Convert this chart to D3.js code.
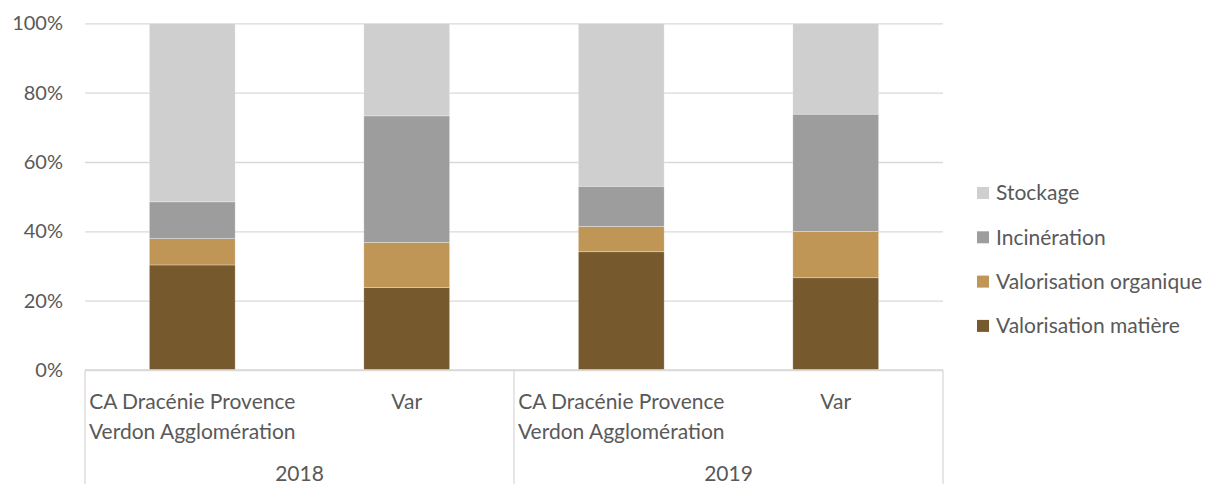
<!DOCTYPE html>
<html>
<head>
<meta charset="utf-8">
<script src="https://cdn.jsdelivr.net/npm/d3@7"></script>
<style>
  html, body { margin: 0; padding: 0; background: #fff; }
  svg { display: block; font-family: "Lato", "Open Sans", sans-serif; }
</style>
</head>
<body>
<svg id="chart" width="1209" height="484"></svg>
<script>
// Treatment modes of household waste (share of tonnage, %)
const groups = ["2018", "2019"];
const territories = ["CA Dracénie Provence Verdon Agglomération", "Var"];
const categoryLines = [["CA Dracénie Provence", "Verdon Agglomération"], ["Var"]];
const series = ["Valorisation matière", "Valorisation organique", "Incinération", "Stockage"];
const valorisationMatiere   = [30.3, 23.8, 34.1, 26.6];
const valorisationOrganique = [7.6, 13.0, 7.3, 13.4];
const incineration          = [10.6, 36.5, 11.6, 33.8];
const stockage              = [51.5, 26.7, 47.0, 26.2];
const yTicks = [0, 20, 40, 60, 80, 100];
const colors = ["#765A2E", "#BF9655", "#9D9D9D", "#D0CFD0"];

const categories = [];
groups.forEach(g => territories.forEach((t, i) => categories.push({ key: g + "|" + t, group: g, idx: i })));
const rows = categories.map((c, i) => ({
  key: c.key,
  "Valorisation matière": valorisationMatiere[i],
  "Valorisation organique": valorisationOrganique[i],
  "Incinération": incineration[i],
  "Stockage": stockage[i]
}));

const svg = d3.select("#chart");
const plotLeft = 85, plotRight = 943, plotTop = 23.3, plotBottom = 370;
const labelSize = "21px";

const x = d3.scaleBand().domain(categories.map(c => c.key)).range([plotLeft, plotRight])
  .paddingInner(0.6).paddingOuter(0.3);
const y = d3.scaleLinear().domain([0, 100]).range([plotBottom, plotTop]);
const color = d3.scaleOrdinal().domain(series).range(colors);
const textColor = "#595959";

// Gridlines and y axis labels
const yAxis = d3.axisLeft(y).tickValues(yTicks).tickFormat(d => d + "%")
  .tickSize(-(plotRight - plotLeft)).tickPadding(22);
const gy = svg.append("g").attr("transform", `translate(${plotLeft},0)`).call(yAxis);
gy.select(".domain").remove();
gy.selectAll(".tick line").attr("stroke", "#D9D9D9").attr("stroke-width", 1.3);
gy.selectAll(".tick text").attr("fill", textColor).style("font-size", "20px").style("font-family", "Lato, sans-serif");

// Stacked bars
const stack = d3.stack().keys(series);
const layers = stack(rows);
svg.append("g").selectAll("g").data(layers).join("g")
  .attr("fill", d => color(d.key))
  .selectAll("rect").data(d => d).join("rect")
  .attr("x", d => x(d.data.key))
  .attr("width", x.bandwidth())
  .attr("y", d => y(d[1]))
  .attr("height", d => y(d[0]) - y(d[1]))
  .attr("stroke", "#ffffff").attr("stroke-width", 0.6).attr("stroke-opacity", 0.5);

// Category axis (two levels)
const axisColor = "#D9D9D9";
svg.append("line").attr("x1", plotLeft).attr("x2", plotRight).attr("y1", plotBottom).attr("y2", plotBottom)
  .attr("stroke", axisColor).attr("stroke-width", 1.3);
const groupScale = d3.scaleBand().domain(groups).range([plotLeft, plotRight]);
const sepXs = [plotLeft].concat(groups.map(g => groupScale(g) + groupScale.bandwidth()));
svg.append("g").selectAll("line").data(sepXs).join("line")
  .attr("x1", d => d).attr("x2", d => d).attr("y1", plotBottom).attr("y2", 484)
  .attr("stroke", axisColor).attr("stroke-width", 1.3);

const catLabels = svg.append("g").selectAll("text").data(categories).join("text")
  .attr("x", d => x(d.key) + x.bandwidth() / 2)
  .attr("y", 409)
  .attr("text-anchor", "middle")
  .attr("fill", textColor).style("font-size", labelSize);
catLabels.each(function (d) {
  const lines = categoryLines[d.idx];
  d3.select(this).selectAll("tspan").data(lines).join("tspan")
    .attr("x", x(d.key) + x.bandwidth() / 2)
    .attr("dy", (l, i) => i === 0 ? 0 : 30)
    .text(l => l);
});

svg.append("g").selectAll("text").data(groups).join("text")
  .attr("x", d => groupScale(d) + groupScale.bandwidth() / 2)
  .attr("y", 481)
  .attr("text-anchor", "middle")
  .attr("fill", textColor).style("font-size", labelSize)
  .text(d => d);

// Legend (top series first)
const legendItems = series.slice().reverse();
const legend = svg.append("g").selectAll("g").data(legendItems).join("g")
  .attr("transform", (d, i) => `translate(977,${193 + i * 44.3})`);
legend.append("rect").attr("x", 0).attr("y", -6).attr("width", 12).attr("height", 12)
  .attr("fill", d => color(d));
legend.append("text").attr("x", 19).attr("y", 0).attr("dy", "0.35em")
  .attr("fill", textColor).style("font-size", labelSize).text(d => d);
</script>
</body>
</html>
